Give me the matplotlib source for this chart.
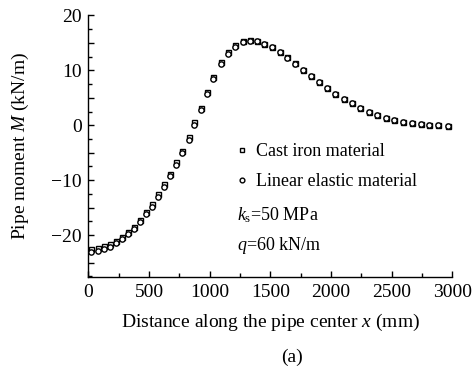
import matplotlib
matplotlib.use("Agg")
import matplotlib.pyplot as plt
from matplotlib.ticker import MultipleLocator, FuncFormatter

plt.rcParams['font.family'] = ['Liberation Serif', 'DejaVu Serif']
plt.rcParams['mathtext.fontset'] = 'custom'
plt.rcParams['mathtext.rm'] = 'Liberation Serif'
plt.rcParams['mathtext.it'] = 'Liberation Serif:italic'
plt.rcParams['axes.unicode_minus'] = True

# Distance along pipe (mm)
x_mm = [20, 75, 130, 180, 225, 275, 325, 375, 425, 475, 520, 570, 620, 670, 720,
        775, 825, 870, 925, 975, 1025, 1090, 1150, 1210, 1270, 1330, 1390, 1450,
        1515, 1575, 1640, 1700, 1770, 1835, 1900, 1965, 2030, 2105, 2170, 2240,
        2310, 2375, 2450, 2520, 2595, 2665, 2740, 2810, 2885, 2960]
# Cast iron material moment (kN/m)
cast_iron = [-22.5, -22.35, -22.05, -21.65, -21.0, -20.25, -19.35, -18.45, -17.15,
             -15.75, -14.35, -12.55, -10.75, -8.85, -6.75, -4.6, -2.15, 0.5, 3.1,
             6.0, 8.8, 11.45, 13.3, 14.55, 15.3, 15.55, 15.4, 14.85, 14.25, 13.35,
             12.35, 11.25, 10.1, 9.0, 7.8, 6.7, 5.7, 4.8, 4.0, 3.1, 2.4, 1.8, 1.4,
             1.0, 0.65, 0.35, 0.2, 0.05, 0.0, -0.05]
# Linear elastic material moment (kN/m)
linear_elastic = [-23.0, -22.8, -22.5, -22.1, -21.4, -20.7, -19.8, -18.9, -17.6,
                  -16.2, -14.8, -13.0, -11.2, -9.3, -7.2, -5.0, -2.6, 0.1, 2.7,
                  5.6, 8.4, 11.1, 13.0, 14.3, 15.1, 15.4, 15.3, 14.8, 14.2, 13.3,
                  12.3, 11.2, 10.1, 9.0, 7.8, 6.7, 5.7, 4.8, 4.0, 3.1, 2.4, 1.8,
                  1.4, 1.0, 0.65, 0.35, 0.2, 0.05, 0.0, -0.05]

fig = plt.figure(figsize=(4.75, 3.72), dpi=100)
ax = fig.add_axes([0.1863, 0.2554, 0.9524 - 0.1863, 0.9589 - 0.2554])

ax.plot(x_mm, cast_iron, linestyle='none', marker='s', markersize=3.6,
        markerfacecolor='white', markeredgecolor='black', markeredgewidth=1.0,
        label='Cast iron material', zorder=3)
ax.plot(x_mm, linear_elastic, linestyle='none', marker='o', markersize=3.8,
        markerfacecolor='white', markeredgecolor='black', markeredgewidth=1.0,
        label='Linear elastic material', zorder=4)

ax.set_xlim(0, 3000)
ax.set_ylim(-27.6, 20)
ax.spines['top'].set_visible(False)
ax.spines['right'].set_visible(False)
for s in ('left', 'bottom'):
    ax.spines[s].set_linewidth(1.0)

ax.xaxis.set_major_locator(MultipleLocator(500))
ax.xaxis.set_minor_locator(MultipleLocator(250))
ax.yaxis.set_major_locator(MultipleLocator(5))
ax.yaxis.set_minor_locator(MultipleLocator(2.5))
ax.yaxis.set_major_formatter(FuncFormatter(
    lambda v, p: (f"{int(round(v))}".replace('-', '\u2212') if abs(v) % 10 < 1e-6 else '')))

ax.tick_params(axis='both', which='major', direction='in', length=4.3, width=1.0,
               labelsize=14, pad=5)
ax.tick_params(axis='both', which='minor', direction='in', length=2.6, width=1.0)

ax.set_xlabel(r'Distance along the pipe center $x$ (mm)', fontsize=14, labelpad=8)
ax.set_ylabel(r'Pipe moment $M$ (kN/m)', fontsize=14, labelpad=14)

leg = ax.legend(loc='upper left', bbox_to_anchor=(237 / 475, 1 - 143 / 372),
                bbox_transform=fig.transFigure,
                frameon=False, fontsize=13, handlelength=0.55, handletextpad=0.5,
                labelspacing=0.72, borderaxespad=0, borderpad=0, markerscale=0.9)

fig.text(237 / 475, 1 - 215 / 372, r'$k_\mathrm{s}$=50 MPa', fontsize=13, va='center', ha='left')
fig.text(237 / 475, 1 - 245 / 372, r'$q$=60 kN/m', fontsize=13, va='center', ha='left')

fig.text(292 / 475, 1 - 357 / 372, '(a)', fontsize=14, ha='center', va='center')

fig.savefig('out.png', dpi=100)
